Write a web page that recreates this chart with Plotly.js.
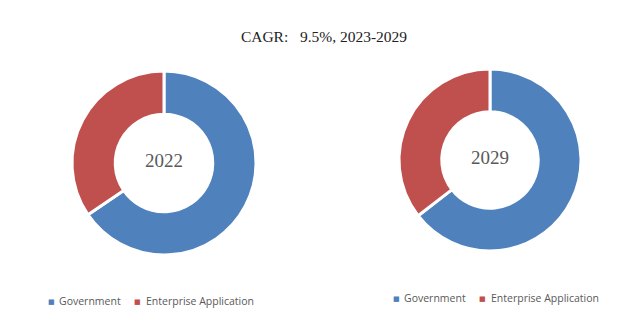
<!DOCTYPE html>
<html>
<head>
<meta charset="utf-8">
<script src="https://cdn.plot.ly/plotly-3.0.1.min.js"></script>
<style>
html,body{margin:0;padding:0;background:#fff;}
#chart{width:642px;height:322px;}
</style>
</head>
<body>
<div id="chart"></div>
<script>
const segments = ["Government", "Enterprise Application"];
const years = ["2022", "2029"];
const share2022 = [65.5, 34.5];
const share2029 = [64.5, 35.5];
const colors = ["#4F81BD", "#C0504D"];
const titleText = "CAGR:&nbsp;&nbsp; 9.5%, 2023-2029";

const W = 642, H = 322;
const px = x => x / W;
const py = y => 1 - y / H;

const common = {
  type: "pie",
  labels: segments,
  hole: 0.53,
  sort: false,
  direction: "clockwise",
  rotation: 0,
  textinfo: "none",
  showlegend: false,
  marker: {colors: colors, line: {color: "#ffffff", width: 3}},
  hoverinfo: "label+percent"
};

const data = [
  Object.assign({}, common, {
    values: share2022,
    name: years[0],
    domain: {x: [px(72), px(256)], y: [py(255), py(71)]}
  }),
  Object.assign({}, common, {
    values: share2029,
    name: years[1],
    domain: {x: [px(399), px(581)], y: [py(251), py(69)]}
  })
];

const legendFont = {family: "Open Sans, sans-serif", size: 10.5, color: "#595959"};
const centerFont = {family: "Liberation Serif, serif", size: 19, color: "#595959"};

// legend layout (pixel anchors): [symbol x, text x] per item, and row y
const legendRows = [
  {y: 301, items: [[51, 57], [137, 144]]},
  {y: 298, items: [[396, 402], [482, 489]]}
];

const annotations = [
  {text: years[0], x: px(164), y: py(160), xref: "paper", yref: "paper",
   xanchor: "center", yanchor: "middle", showarrow: false, font: centerFont},
  {text: years[1], x: px(490), y: py(158), xref: "paper", yref: "paper",
   xanchor: "center", yanchor: "middle", showarrow: false, font: centerFont}
];
legendRows.forEach(row => {
  row.items.forEach((it, i) => {
    annotations.push({
      text: "■", x: px(it[0]), y: py(row.y + 0.5), xref: "paper", yref: "paper",
      xanchor: "center", yanchor: "middle", showarrow: false,
      font: {family: "DejaVu Sans, sans-serif", size: 7, color: colors[i]}
    });
    annotations.push({
      text: segments[i], x: px(it[1]), y: py(row.y), xref: "paper", yref: "paper",
      xanchor: "left", yanchor: "middle", showarrow: false, font: legendFont
    });
  });
});

const layout = {
  width: W,
  height: H,
  margin: {l: 0, r: 0, t: 0, b: 0},
  paper_bgcolor: "#ffffff",
  plot_bgcolor: "#ffffff",
  showlegend: false,
  title: {
    text: titleText,
    font: {family: "Liberation Serif, serif", size: 15.5, color: "#222222"},
    x: px(324), xanchor: "center", y: py(37), yanchor: "middle"
  },
  annotations: annotations
};

Plotly.newPlot("chart", data, layout, {staticPlot: true, displayModeBar: false});
</script>
</body>
</html>
